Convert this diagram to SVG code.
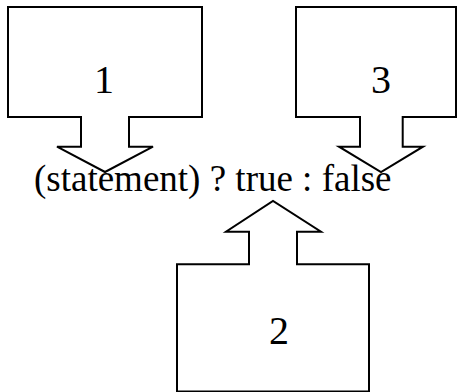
<svg xmlns="http://www.w3.org/2000/svg" width="462" height="392" viewBox="0 0 462 392">
<style>
.callout{fill:none;stroke:#000;stroke-width:2;stroke-linejoin:miter}
.num{font-family:"Liberation Serif","Times New Roman",serif;font-size:40px;fill:#000;text-anchor:middle}
.expr{font-family:"Liberation Serif","Times New Roman",serif;font-size:37px;fill:#000}
</style>
<rect width="462" height="392" fill="#fff"/>
<g id="expression">
<text class="expr" x="34" y="191">(statement) ? true : false</text>
</g>
<g id="node1">
<path class="callout" d="M8,7 H202 V117 H129 V146.7 H153 L105,172 L57,146.7 H81 V117 H8 Z"/>
<text class="num" x="104" y="93">1</text>
</g>
<g id="node3">
<path class="callout" d="M296,7 H456 V117 H402.7 V146.7 H423 L381,172 L339,146.7 H360 V117 H296 Z"/>
<text class="num" x="381" y="93">3</text>
</g>
<g id="node2">
<path class="callout" d="M177,391.5 V264.3 H249 V231.7 H226 L273,201 L321,231.7 H297 V264.3 H369 V391.5 Z"/>
<text class="num" x="279" y="344">2</text>
</g>
<g id="connectors"></g>
</svg>
